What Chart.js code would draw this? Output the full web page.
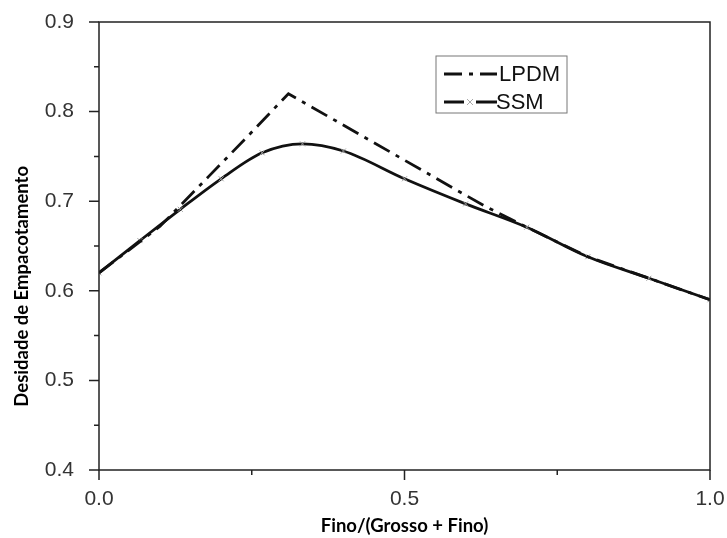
<html>
<body style="margin:0;background:#fff">
<div style="width:727px;height:538px">
  <canvas id="myChart" width="727" height="538"></canvas>
</div>
<script src="https://cdn.jsdelivr.net/npm/chart.js@4.4.1/dist/chart.umd.min.js"></script>
<script>
  const seriesNames = ["LPDM", "SSM"];
  const lpdmX = [0, 0.1, 0.18, 0.24, 0.31, 0.63, 0.7, 0.8, 0.9, 1.0];
  const lpdmY = [0.62, 0.672, 0.728, 0.77, 0.82, 0.695, 0.671, 0.638, 0.614, 0.59];
  const ssmX = [0, 0.067, 0.133, 0.2, 0.267, 0.333, 0.4, 0.5, 0.6, 0.7, 0.8, 0.9, 1.0];
  const ssmY = [0.62, 0.656, 0.691, 0.725, 0.754, 0.764, 0.756, 0.725, 0.697, 0.671, 0.638, 0.614, 0.59];
  const xTickLabels = ["0.0", "0.5", "1.0"];
  const yTickLabels = ["0.4", "0.5", "0.6", "0.7", "0.8", "0.9"];
  const yTitle = "Desidade de Empacotamento";

  const dashDot = [18, 7, 4, 7];

  // frame, tick marks, y title and legend box drawn on the canvas
  const framePlugin = {
    id: "frame",
    afterDraw(chart) {
      const ctx = chart.ctx;
      const ca = chart.chartArea;
      const xs = chart.scales.x, ys = chart.scales.y;
      ctx.save();
      ctx.strokeStyle = "#222";
      ctx.lineWidth = 1.5;
      ctx.strokeRect(ca.left, ca.top, ca.right - ca.left, ca.bottom - ca.top);

      ctx.beginPath();
      for (let i = 0; i <= 10; i++) {
        const py = ys.getPixelForValue(0.4 + i * 0.05);
        ctx.moveTo(ca.left, py);
        ctx.lineTo(ca.left - (i % 2 === 0 ? 10 : 5), py);
      }
      for (let i = 0; i <= 4; i++) {
        const px = xs.getPixelForValue(i * 0.25);
        ctx.moveTo(px, ca.bottom);
        ctx.lineTo(px, ca.bottom + (i % 2 === 0 ? 10 : 5));
      }
      ctx.stroke();

      // y axis title, sits lower than the centre in the original
      ctx.save();
      ctx.translate(22, ys.getPixelForValue(0.605));
      ctx.rotate(-Math.PI / 2);
      ctx.font = "bold 18.5px Lato";
      ctx.fillStyle = "#000";
      ctx.textAlign = "center";
      ctx.textBaseline = "middle";
      ctx.fillText(yTitle, 0, 0);
      ctx.restore();

      const bx = ca.left + 337, by = ca.top + 34, bw = 131, bh = 57;
      ctx.lineWidth = 1;
      ctx.strokeStyle = "#777";
      ctx.strokeRect(bx, by, bw, bh);
      ctx.font = "22px 'Liberation Sans'";
      ctx.fillStyle = "#111";
      ctx.textBaseline = "middle";
      // LPDM
      ctx.strokeStyle = "#111";
      ctx.lineWidth = 3;
      ctx.setLineDash(dashDot);
      ctx.beginPath();
      ctx.moveTo(bx + 8, by + 18);
      ctx.lineTo(bx + 61, by + 18);
      ctx.stroke();
      ctx.setLineDash([]);
      ctx.fillText(seriesNames[0], bx + 63, by + 19);
      // SSM
      ctx.beginPath();
      ctx.moveTo(bx + 8, by + 46);
      ctx.lineTo(bx + 28, by + 46);
      ctx.moveTo(bx + 40, by + 46);
      ctx.lineTo(bx + 61, by + 46);
      ctx.stroke();
      ctx.strokeStyle = "#aaa";
      ctx.lineWidth = 1;
      ctx.beginPath();
      ctx.moveTo(bx + 31, by + 43); ctx.lineTo(bx + 37, by + 49);
      ctx.moveTo(bx + 37, by + 43); ctx.lineTo(bx + 31, by + 49);
      ctx.stroke();
      ctx.fillText(seriesNames[1], bx + 60, by + 47);
      ctx.restore();
    }
  };

  new Chart("myChart", {
    type: "line",
    data: {
      datasets: [{
        label: seriesNames[0],
        data: lpdmX.map((x, i) => ({ x: x, y: lpdmY[i] })),
        borderColor: "#111",
        borderWidth: 2.8,
        borderDash: dashDot,
        pointRadius: 0,
        tension: 0
      }, {
        label: seriesNames[1],
        data: ssmX.map((x, i) => ({ x: x, y: ssmY[i] })),
        borderColor: "#111",
        borderWidth: 2.8,
        cubicInterpolationMode: "monotone",
        pointStyle: "crossRot",
        pointRadius: 3.5,
        pointBorderColor: "#999",
        pointBorderWidth: 1
      }]
    },
    options: {
      responsive: false,
      animation: false,
      layout: { padding: { top: 22, right: 17, left: 0, bottom: 0 } },
      plugins: { legend: { display: false }, tooltip: { enabled: false } },
      scales: {
        x: {
          type: "linear",
          min: 0,
          max: 1,
          afterFit: (s) => { s.height = 68; s.paddingLeft = 0; s.paddingRight = 0; },
          afterBuildTicks: (s) => { s.ticks = [0, 0.5, 1].map(v => ({ value: v })); },
          ticks: {
            autoSkip: false,
            maxRotation: 0,
            padding: 9,
            color: "#333",
            font: { family: "Liberation Sans", size: 21 },
            callback: (v) => xTickLabels[Math.round(v * 2)]
          },
          grid: { display: false },
          border: { display: false },
          title: {
            display: true,
            text: "Fino/(Grosso + Fino)",
            color: "#000",
            font: { family: "Lato", size: 18.5, weight: "bold" },
            padding: { top: 4, bottom: 1 }
          }
        },
        y: {
          min: 0.4,
          max: 0.9,
          afterFit: (s) => { s.width = 99; s.paddingTop = 0; s.paddingBottom = 0; },
          afterBuildTicks: (s) => { s.ticks = yTickLabels.map(v => ({ value: parseFloat(v) })); },
          ticks: {
            autoSkip: false,
            padding: 17,
            color: "#333",
            font: { family: "Liberation Sans", size: 21 },
            callback: (v) => v.toFixed(1)
          },
          grid: { display: false },
          border: { display: false },
          title: { display: false }
        }
      }
    },
    plugins: [framePlugin]
  });
</script>
</body>
</html>
